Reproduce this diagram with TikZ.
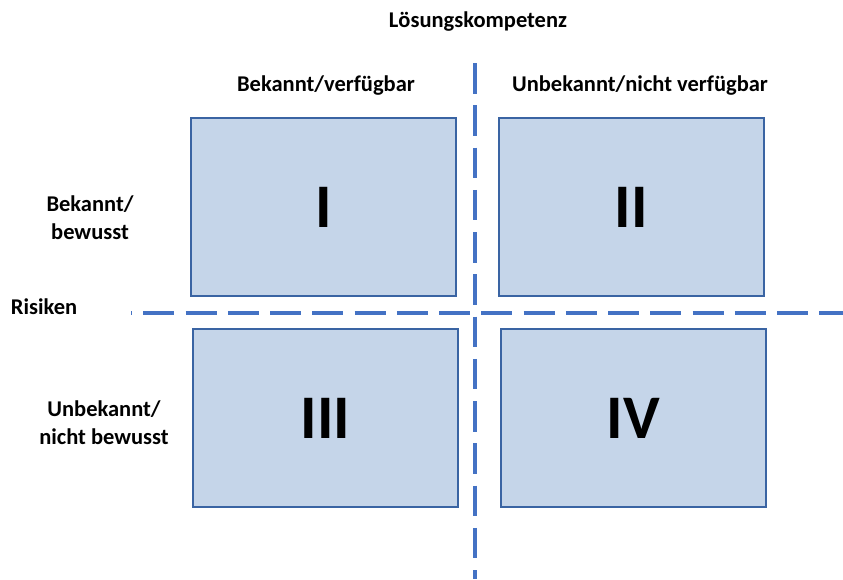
\documentclass[tikz,border=0pt]{standalone}
\usepackage{fontspec}
\setmainfont{Carlito}
\begin{document}
\begin{tikzpicture}[x=1pt,y=-1pt,
  quad/.style={draw=boxedge,fill=boxfill,line width=1.8pt},
  numeral/.style={font=\bfseries\fontsize{62}{62}\selectfont},
  lbl/.style={font=\bfseries\fontsize{22.5}{28}\selectfont,align=center},
  divider/.style={draw=divblue,line width=4pt}]
\definecolor{boxfill}{HTML}{C5D5E9}
\definecolor{boxedge}{HTML}{3A64A3}
\definecolor{divblue}{HTML}{4472C4}
\useasboundingbox (0,0) rectangle (843,579);

% quadrants
\draw[quad] (191,118) rectangle (456,296) node[numeral,midway] (q1) {I};
\draw[quad] (499,118) rectangle (764,296) node[numeral,midway] (q2) {II};
\draw[quad] (193,329) rectangle (458,507) node[numeral,midway] (q3) {III};
\draw[quad] (501,329) rectangle (766,507) node[numeral,midway] (q4) {IV};

% dashed dividers
\coordinate (hl) at (131,312.5);
\coordinate (hr) at (843,312.5);
\coordinate (vt) at (475,63);
\coordinate (vb) at (475,579);
\draw[divider,dash pattern=on 31pt off 11.25pt,dash phase=30pt] (hl) -- (hr);
\draw[divider,dash pattern=on 30.5pt off 11.77pt] (vt) -- (vb);

% axis labels
\node[lbl] (axtop) at (478,22) {Lösungskompetenz};
\node[lbl] (c1) at (326,86) {Bekannt/verfügbar};
\node[lbl] (c2) at (640,86) {Unbekannt/nicht verfügbar};
\node[lbl] (axleft) at (44,307) {Risiken};
\node[lbl] (r1) at (90,218) {Bekannt/\\bewusst};
\node[lbl] (r2) at (104,423) {Unbekannt/\\nicht bewusst};
\end{tikzpicture}
\end{document}
